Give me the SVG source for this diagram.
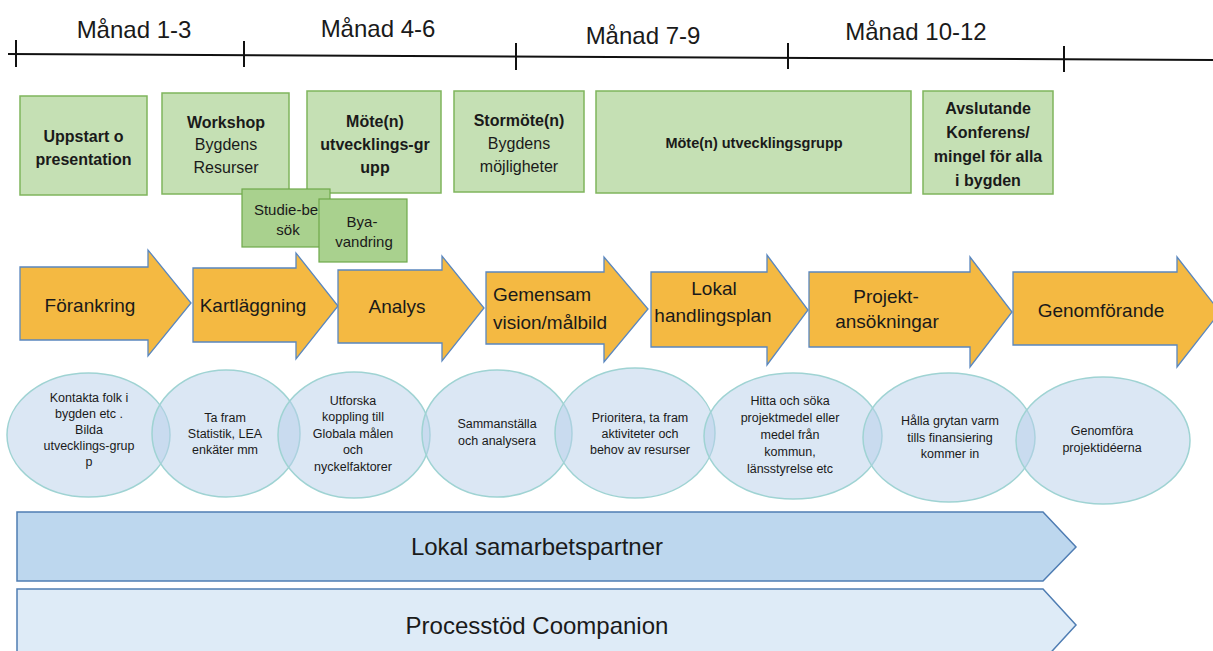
<svg xmlns="http://www.w3.org/2000/svg" width="1213" height="651" viewBox="0 0 1213 651">
<style>
text{font-family:"Liberation Sans",Arial,sans-serif;fill:#1a1a1a;text-anchor:middle}
.mon{font-size:24px}
.gb{fill:#c5e0b4;stroke:#7fb55c;stroke-width:1.5}
.gs{fill:#a9d18e;stroke:#6fa84a;stroke-width:1.2}
.b{font-size:16px;font-weight:bold}
.r{font-size:16px}
.sm{font-size:15px}
.ar{fill:#f4b942;stroke:#5a87bf;stroke-width:1.3}
.at{font-size:19px}
.ci{fill:#b8d0ea;fill-opacity:0.5;stroke:#9fd3d3;stroke-width:1.5}
.ct{font-size:12.5px}
.bd{stroke:#4f7db3;stroke-width:1.5}
.bt{font-size:24px}
.tl{stroke:#111;stroke-width:2;fill:none}
</style>
<rect width="1213" height="651" fill="#fff"/>
<g id="timeline">
<line class="tl" x1="8" y1="54" x2="1213" y2="60"/>
<line class="tl" x1="16" y1="40" x2="16" y2="67"/>
<line class="tl" x1="244" y1="41" x2="244" y2="67"/>
<line class="tl" x1="516" y1="43" x2="516" y2="70"/>
<line class="tl" x1="788" y1="43" x2="788" y2="69"/>
<line class="tl" x1="1064" y1="46" x2="1064" y2="72"/>
<text class="mon" x="134" y="38">Månad 1-3</text>
<text class="mon" x="378" y="37">Månad 4-6</text>
<text class="mon" x="643" y="44">Månad 7-9</text>
<text class="mon" x="916" y="40">Månad 10-12</text>
</g>
<g id="box-uppstart">
<rect class="gb" x="20" y="96" width="127" height="99"/>
<text class="b" x="83.5" y="142">Uppstart o</text>
<text class="b" x="83.5" y="165">presentation</text>
</g>
<g id="box-workshop">
<rect class="gb" x="162" y="93" width="127" height="101"/>
<text class="b" x="226" y="128">Workshop</text>
<text class="r" x="226" y="150">Bygdens</text>
<text class="r" x="226" y="173">Resurser</text>
</g>
<g id="box-mote1">
<rect class="gb" x="307" y="91" width="134" height="102"/>
<text class="b" x="375" y="127">Möte(n)</text>
<text class="b" x="375" y="150">utvecklings-gr</text>
<text class="b" x="375" y="173">upp</text>
</g>
<g id="box-stormote">
<rect class="gb" x="454" y="91" width="130" height="101"/>
<text class="b" x="519" y="126">Stormöte(n)</text>
<text class="r" x="519" y="149">Bygdens</text>
<text class="r" x="519" y="172">möjligheter</text>
</g>
<g id="box-mote2">
<rect class="gb" x="596" y="91" width="315" height="102"/>
<text class="b" x="754" y="148" style="font-size:14.5px">Möte(n) utvecklingsgrupp</text>
</g>
<g id="box-avslutande">
<rect class="gb" x="923" y="91" width="130" height="103"/>
<text class="b" x="988" y="114">Avslutande</text>
<text class="b" x="988" y="138">Konferens/</text>
<text class="b" x="988" y="162">mingel för alla</text>
<text class="b" x="988" y="186">i bygden</text>
</g>
<g id="box-studiebesok">
<rect class="gs" x="242" y="189" width="88" height="58"/>
<text class="sm" x="286" y="215">Studie-be</text>
<text class="sm" x="288" y="235">sök</text>
</g>
<g id="box-byavandring">
<rect class="gs" x="319" y="199" width="88" height="63"/>
<text class="sm" x="362" y="227">Bya-</text>
<text class="sm" x="364" y="247">vandring</text>
</g>
<g id="arrow-forankring">
<polygon class="ar" points="20,267 148,267 148,250 191,303 148,356 148,340 20,340"/>
<text class="at" x="90" y="312">Förankring</text>
</g>
<g id="arrow-kartlaggning">
<polygon class="ar" points="193,268 296,268 296,253 338,306 296,359 296,342 193,342"/>
<text class="at" x="253" y="312">Kartläggning</text>
</g>
<g id="arrow-analys">
<polygon class="ar" points="338,270 442,270 442,256 484,308 442,361 442,343 338,343"/>
<text class="at" x="397" y="313">Analys</text>
</g>
<g id="arrow-gemensam">
<polygon class="ar" points="486,272 604,272 604,257 648,309 604,362 604,344 486,344"/>
<text class="at" x="542" y="301">Gemensam</text>
<text class="at" x="550" y="329">vision/målbild</text>
</g>
<g id="arrow-lokal">
<polygon class="ar" points="651,272 767,272 767,255 808,310 767,365 767,347 651,347"/>
<text class="at" x="714" y="295">Lokal</text>
<text class="at" x="713" y="322">handlingsplan</text>
</g>
<g id="arrow-projekt">
<polygon class="ar" points="809,272 970,272 970,257 1012,312 970,367 970,347 809,347"/>
<text class="at" x="886" y="303">Projekt-</text>
<text class="at" x="887" y="328">ansökningar</text>
</g>
<g id="arrow-genomforande">
<polygon class="ar" points="1013,272 1177,272 1177,257 1220,312 1177,367 1177,345 1013,345"/>
<text class="at" x="1101" y="317">Genomförande</text>
</g>
<g id="circle-1">
<ellipse class="ci" cx="88.5" cy="435" rx="81.5" ry="62"/>
<text class="ct" x="89" y="402">Kontakta folk i</text>
<text class="ct" x="89" y="418">bygden etc .</text>
<text class="ct" x="89" y="434">Bilda</text>
<text class="ct" x="89" y="450">utvecklings-grup</text>
<text class="ct" x="89" y="466">p</text>
</g>
<g id="circle-2">
<ellipse class="ci" cx="226" cy="433.5" rx="74" ry="63.5"/>
<text class="ct" x="225" y="422">Ta fram</text>
<text class="ct" x="225" y="438">Statistik, LEA</text>
<text class="ct" x="225" y="454">enkäter mm</text>
</g>
<g id="circle-3">
<ellipse class="ci" cx="354" cy="435" rx="76" ry="63"/>
<text class="ct" x="353" y="405">Utforska</text>
<text class="ct" x="353" y="421">koppling till</text>
<text class="ct" x="353" y="438">Globala målen</text>
<text class="ct" x="353" y="454">och</text>
<text class="ct" x="353" y="471">nyckelfaktorer</text>
</g>
<g id="circle-4">
<ellipse class="ci" cx="497" cy="433.5" rx="75" ry="63.5"/>
<text class="ct" x="497" y="428">Sammanställa</text>
<text class="ct" x="497" y="445">och analysera</text>
</g>
<g id="circle-5">
<ellipse class="ci" cx="635" cy="433" rx="80" ry="65"/>
<text class="ct" x="640" y="422">Prioritera, ta fram</text>
<text class="ct" x="640" y="438">aktiviteter och</text>
<text class="ct" x="640" y="454">behov av resurser</text>
</g>
<g id="circle-6">
<ellipse class="ci" cx="793" cy="436" rx="89" ry="63"/>
<text class="ct" x="790" y="405">Hitta och söka</text>
<text class="ct" x="790" y="422">projektmedel eller</text>
<text class="ct" x="790" y="439">medel från</text>
<text class="ct" x="790" y="456">kommun,</text>
<text class="ct" x="790" y="473">länsstyrelse etc</text>
</g>
<g id="circle-7">
<ellipse class="ci" cx="949" cy="437.5" rx="86" ry="64.5"/>
<text class="ct" x="950" y="425">Hålla grytan varm</text>
<text class="ct" x="950" y="442">tills finansiering</text>
<text class="ct" x="950" y="458">kommer in</text>
</g>
<g id="circle-8">
<ellipse class="ci" cx="1103" cy="440.5" rx="87" ry="63.5"/>
<text class="ct" x="1102" y="435">Genomföra</text>
<text class="ct" x="1102" y="452">projektidéerna</text>
</g>
<g id="band-lokal">
<polygon class="bd" fill="#bdd7ee" points="17,512 1043,512 1076,547 1043,581 17,581"/>
<text class="bt" x="537" y="555">Lokal samarbetspartner</text>
</g>
<g id="band-processtod">
<polygon class="bd" fill="#deebf7" points="17,589 1043,589 1076,625 1043,661 17,661"/>
<text class="bt" x="537" y="634">Processtöd Coompanion</text>
</g>
</svg>
